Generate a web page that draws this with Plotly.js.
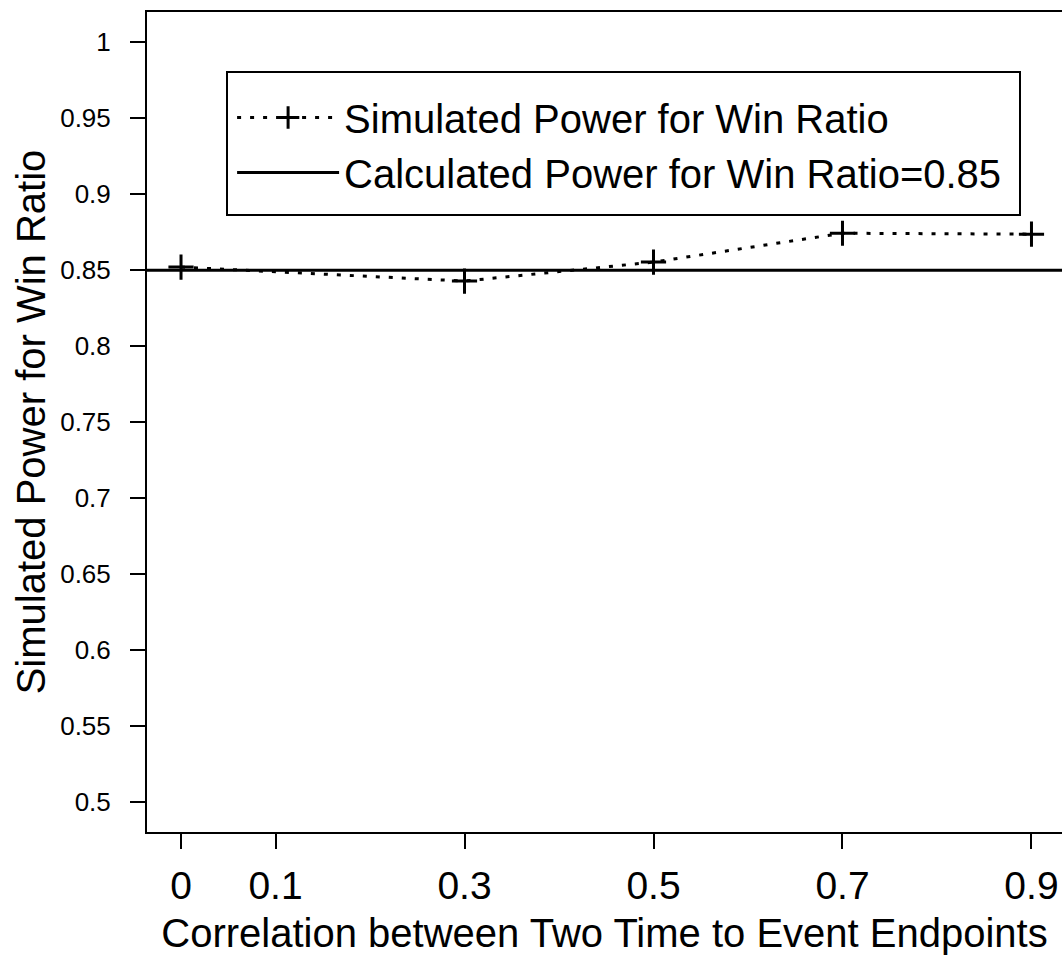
<!DOCTYPE html>
<html>
<head>
<meta charset="utf-8">
<script src="https://cdn.plot.ly/plotly-3.0.1.min.js"></script>
<style>
html, body { margin: 0; padding: 0; overflow: hidden; background: #fff; }
#chart { width: 1062px; height: 962px; }
</style>
</head>
<body>
<div id="chart"></div>
<script>
// Data
const correlation = [0, 0.3, 0.5, 0.7, 0.9];
const simulatedPower = [0.852, 0.8428, 0.8553, 0.8743, 0.8737];
const calculatedPower = 0.85;

const xTickVals = [0, 0.1, 0.3, 0.5, 0.7, 0.9];
const xTickText = ['0', '0.1', '0.3', '0.5', '0.7', '0.9'];
const yTickVals = [0.5, 0.55, 0.6, 0.65, 0.7, 0.75, 0.8, 0.85, 0.9, 0.95, 1];
const yTickText = ['0.5', '0.55', '0.6', '0.65', '0.7', '0.75', '0.8', '0.85', '0.9', '0.95', '1'];

const xRange = [-0.036, 0.9323];
const yRange = [0.48, 1.02];

const FONT = 'Liberation Sans, Arial, sans-serif';

const traces = [
  {
    x: correlation,
    y: simulatedPower,
    type: 'scatter',
    mode: 'lines+markers',
    name: 'Simulated Power for Win Ratio',
    line: { color: '#000', width: 3, dash: '4px,9px' },
    marker: { symbol: 'cross-thin-open', size: 18, color: '#000', line: { color: '#000', width: 3 } },
    cliponaxis: false
  },
  {
    x: xRange,
    y: [calculatedPower, calculatedPower],
    type: 'scatter',
    mode: 'lines',
    name: 'Calculated Power for Win Ratio=0.85',
    line: { color: '#000', width: 3 }
  }
];

const layout = {
  width: 1062,
  height: 962,
  margin: { l: 147, r: 0, t: 12, b: 130 },
  paper_bgcolor: '#fff',
  plot_bgcolor: '#fff',
  font: { family: FONT, color: '#000' },
  showlegend: true,
  legend: {
    x: 0.093, y: 0.911, xanchor: 'left', yanchor: 'top',
    bgcolor: 'rgba(0,0,0,0)', borderwidth: 0,
    font: { family: FONT, size: 40, color: '#000' },
    itemwidth: 102,
    tracegroupgap: 0
  },
  xaxis: {
    range: xRange,
    tickmode: 'array', tickvals: xTickVals, ticktext: xTickText,
    ticks: 'outside', ticklen: 15, tickwidth: 2, tickcolor: '#000',
    tickfont: { family: FONT, size: 39, color: '#000' },
    ticklabelstandoff: 3,
    showline: true, linecolor: '#000', linewidth: 2, mirror: true,
    showgrid: false, zeroline: false,
    title: { text: 'Correlation between Two Time to Event Endpoints', font: { family: FONT, size: 40, color: '#000' }, standoff: 13 }
  },
  yaxis: {
    range: yRange,
    tickmode: 'array', tickvals: yTickVals, ticktext: yTickText,
    ticks: 'outside', ticklen: 15, tickwidth: 2, tickcolor: '#000',
    tickfont: { family: FONT, size: 26, color: '#000' },
    ticklabelstandoff: 14,
    showline: true, linecolor: '#000', linewidth: 2, mirror: false,
    showgrid: false, zeroline: false,
    title: { text: 'Simulated Power for Win Ratio', font: { family: FONT, size: 40, color: '#000' }, standoff: 2 }
  },
  shapes: [
    {
      type: 'rect', xref: 'paper', yref: 'paper',
      x0: (227 - 147) / 915, x1: (1020 - 147) / 915,
      y0: 1 - (215 - 12) / 820, y1: 1 - (72 - 12) / 820,
      line: { color: '#000', width: 2 }, fillcolor: 'rgba(0,0,0,0)'
    }
  ]
};

Plotly.newPlot('chart', traces, layout, { staticPlot: true, displayModeBar: false });
</script>
</body>
</html>
